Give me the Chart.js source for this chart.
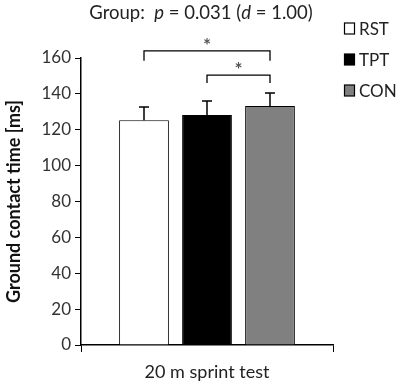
<!DOCTYPE html>
<html>
<head>
<meta charset="utf-8">
<script src="https://cdn.jsdelivr.net/npm/chart.js@4"></script>
<style>
  html, body { margin: 0; padding: 0; background: #fff; }
  #wrap { width: 403px; height: 386px; }
</style>
</head>
<body>
<div id="wrap"><canvas id="sprintChart" width="403" height="386"></canvas></div>
<script>
const groups = ['RST', 'TPT', 'CON'];
const means = [125.3, 128.2, 133.2];
const sds = [7.4, 7.8, 7.3];
const fills = ['#ffffff', '#000000', '#808080'];
const category = ['20 m sprint test'];
const yTicks = [0, 160, 20]; // min, max, step
// significance pairs: from, to, bracket level (in ms)
const sigPairs = [[0, 2, 164], [1, 2, 150.5]];

const FONT = 'Lato, "Open Sans", sans-serif';

// error bars, brackets, title, legend
const extras = {
    id: 'extras',
    afterDatasetsDraw(chart) {
        const c = chart.ctx;
        const y = chart.scales.y;
        const centers = [];
        c.save();
        c.strokeStyle = '#000';
        c.lineWidth = 1.5;
        chart.data.datasets.forEach((ds, i) => {
            const bar = chart.getDatasetMeta(i).data[0];
            centers.push(bar.x);
            const top = y.getPixelForValue(means[i] + sds[i]);
            c.beginPath();
            c.moveTo(bar.x, bar.y);
            c.lineTo(bar.x, top);
            c.moveTo(bar.x - 5, top);
            c.lineTo(bar.x + 5, top);
            c.stroke();
        });

        // brackets
        c.lineWidth = 1.3;
        c.textAlign = 'center';
        c.textBaseline = 'middle';
        sigPairs.forEach((p, k) => {
            const yy = y.getPixelForValue(p[2]);
            const x1 = centers[p[0]], x2 = centers[p[1]];
            const drop = k === 0 ? 10 : 8;
            c.beginPath();
            c.moveTo(x1, yy + drop);
            c.lineTo(x1, yy);
            c.lineTo(x2, yy);
            c.lineTo(x2, yy + drop);
            c.stroke();
            c.fillStyle = '#555';
            c.font = 'bold 19px ' + FONT;
            c.fillText('*', (x1 + x2) / 2, yy - 5);
        });

        // title with italic p and d
        const parts = [['Group:  ', ''], ['p', 'italic '], [' = 0.031 (', ''], ['d', 'italic '], [' = 1.00)', '']];
        let w = 0;
        parts.forEach(pt => { c.font = pt[1] + '18.5px ' + FONT; w += c.measureText(pt[0]).width; });
        let x = 201 - w / 2;
        c.fillStyle = '#222';
        c.textAlign = 'left';
        parts.forEach(pt => {
            c.font = pt[1] + '18.5px ' + FONT;
            c.fillText(pt[0], x, 13);
            x += c.measureText(pt[0]).width;
        });

        // legend
        c.font = '17px ' + FONT;
        groups.forEach((g, i) => {
            const ly = 28.5 + i * 31;
            c.fillStyle = fills[i];
            c.fillRect(344, ly - 5.5, 10, 11);
            c.strokeStyle = '#000';
            c.lineWidth = 1.2;
            c.strokeRect(344.5, ly - 5.5, 10, 11);
            c.fillStyle = '#222';
            c.fillText(g, 359, ly + 1);
        });
        c.restore();
    }
};

const ctx = document.getElementById('sprintChart').getContext('2d');
const sprintChart = new Chart(ctx, {
    type: 'bar',
    data: {
        labels: category,
        datasets: groups.map((g, i) => ({
            label: g,
            data: [means[i]],
            backgroundColor: fills[i],
            borderColor: '#000',
            borderWidth: 1,
            categoryPercentage: 0.75,
            barPercentage: 0.79
        }))
    },
    options: {
        responsive: false,
        animation: false,
        layout: { padding: { top: 58, right: 70, left: 0, bottom: 0 } },
        plugins: {
            legend: { display: false },
            tooltip: { enabled: false }
        },
        scales: {
            x: {
                grid: { drawOnChartArea: false, tickLength: 7, color: '#000', offset: true },
                border: { color: '#000', width: 1.5 },
                ticks: { display: false },
                title: { display: true, text: '20 m sprint test', color: '#222', font: { family: FONT, size: 18 }, padding: { top: 4, bottom: 3 } },
                afterFit(s) { s.height = 41; }
            },
            y: {
                min: yTicks[0],
                max: yTicks[1],
                ticks: { stepSize: yTicks[2], color: '#333', font: { family: FONT, size: 17 }, padding: 4 },
                grid: { drawOnChartArea: false, tickLength: 6, color: '#000' },
                border: { color: '#000', width: 1.5 },
                title: { display: true, text: 'Ground contact time [ms]', color: '#111', font: { family: FONT, size: 18, weight: 'bold' }, padding: { top: 3, bottom: 4 } },
                afterFit(s) { s.width = 81; }
            }
        }
    },
    plugins: [extras]
});
</script>
</body>
</html>
